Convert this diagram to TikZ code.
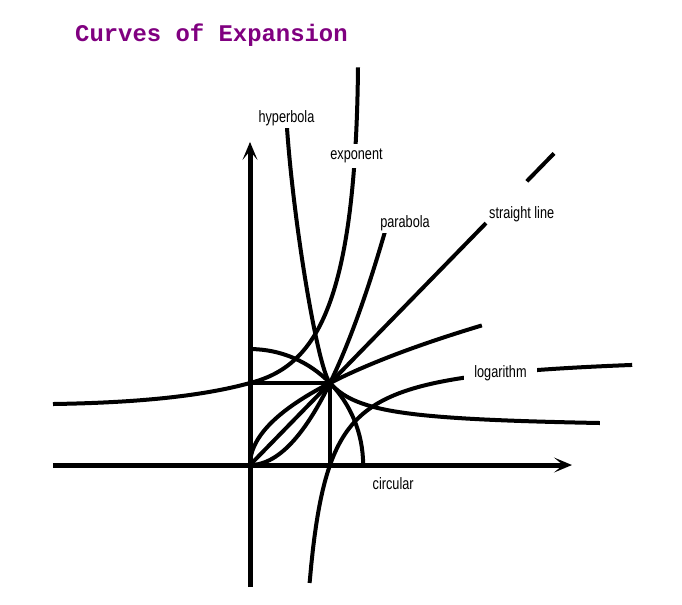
\documentclass[tikz,border=0pt]{standalone}
\usepackage{fontspec}
\usetikzlibrary{arrows.meta}
\newfontfamily\tagfont[FakeStretch=0.77]{Liberation Sans}
\newfontfamily\headfont{Liberation Mono}
\newcommand{\UX}{80pt}
\newcommand{\UY}{82pt}
\newcommand{\RC}{1.41421}
\definecolor{cxtitle}{RGB}{128,0,128}

\begin{document}
\begin{tikzpicture}[
    x=\UX, y=\UY,
    >={Stealth[length=18pt, width=15pt, inset=9pt]},
    axis/.style={draw=black, line width=5pt},
    curve/.style={draw=black, line width=4pt},
    tag/.style={font={\tagfont\fontsize{16.5}{18}\selectfont}, anchor=base, fill=white, inner sep=2pt},
  ]
  \useasboundingbox (-3.125,-1.695) rectangle (5.4,5.671);

  %% ================= title =================
  \node[font={\headfont\bfseries\fontsize{23.9}{26}\selectfont}, text=cxtitle,
        anchor=base west, inner sep=0pt] (title) at (-2.1875,5.162) {Curves of Expansion};

  %% ================= axes and the unit point =================
  \coordinate (O) at (0,0);
  \coordinate (P) at (1,1);
  \draw[axis,->] (-2.4625,0) -- (4.025,0);
  \draw[axis,->] (0,-1.488) -- (0,3.94);
  \draw[curve] (0,1) -- (P) -- (1,0);

  %% ================= the curves through P =================
  % circular: quarter circle through P
  \draw[curve] (0,\RC) arc[start angle=90, end angle=0, x radius=\RC, y radius=\RC];

  % straight line, broken for its label
  \draw[curve] (O) -- (2.95,2.95);
  \draw[curve] (3.46,3.46) -- (3.8,3.8);

  % parabola and its mirror
  \draw[curve] plot[domain=0:1.7, samples=50] (\x,{\x*\x});
  \draw[curve] plot[domain=0:1.703, samples=50] ({\x*\x},\x);

  % hyperbola: steep branch down to P, then the flat tail
  \draw[curve] (0.4625,4.11) .. controls (0.55,2.9) and (0.85,1.168) .. (P);
  \draw[curve] plot[domain=1:4.375, samples=60] (\x,{0.44+0.28/(\x-0.5)});

  % exponent
  \draw[curve] (-2.4625,0.744) .. controls (-1.4,0.76) and (-0.6,0.84) .. (0,1)
    .. controls (0.8,1.2) and (1.32,1.9) .. (1.35,4.85);

  % logarithm
  \draw[curve] plot[domain=0.745:4.78, samples=200] (\x,{1.382-0.691/(\x-0.5)});

  %% ================= labels =================
  \node[tag] (hyp) at (0.456,4.18) {hyperbola};
  \node[tag, inner ysep=5pt] (expo) at (1.331,3.72) {exponent};
  \node[tag] (para) at (1.9375,2.90) {parabola};
  \node[tag] (line) at (3.396,3.006) {straight line};
  \node[tag, inner xsep=10pt] (loga) at (3.131,1.073) {logarithm};
  \node[tag] (circ) at (1.79,-0.296) {circular};

\end{tikzpicture}
\end{document}
